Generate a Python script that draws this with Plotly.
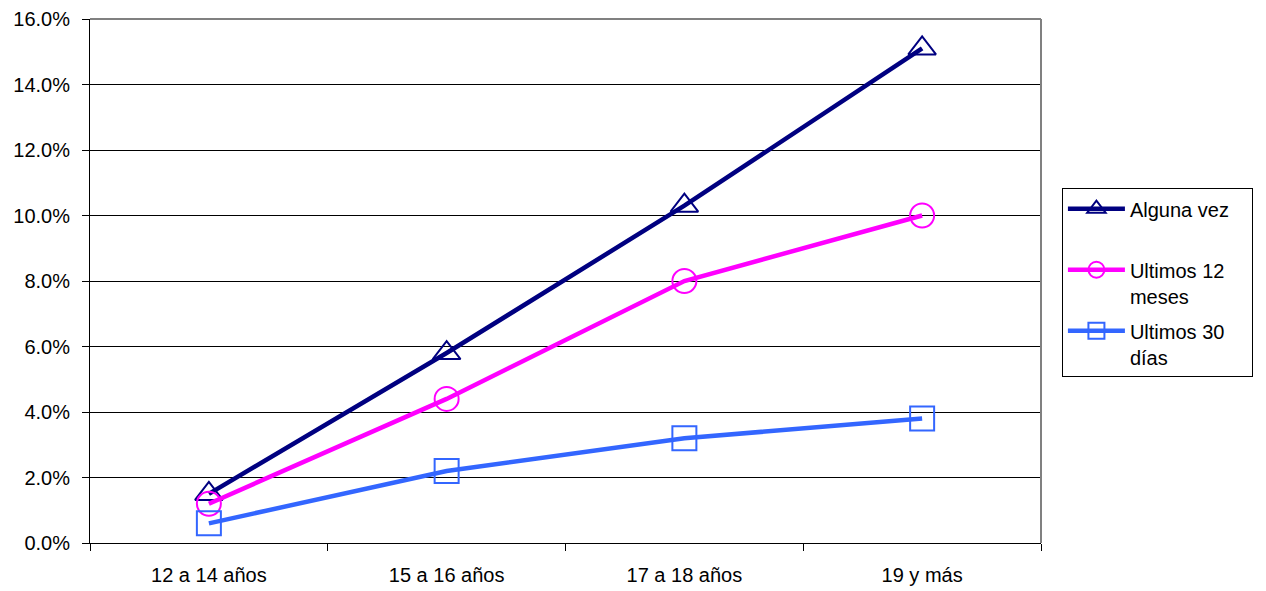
import plotly.graph_objects as go

categories = ["12 a 14 años", "15 a 16 años", "17 a 18 años", "19 y más"]
alguna_vez = [0.015, 0.058, 0.103, 0.151]
ultimos_12 = [0.012, 0.044, 0.080, 0.100]
ultimos_30 = [0.006, 0.022, 0.032, 0.038]
y_ticks = [0.0, 0.02, 0.04, 0.06, 0.08, 0.10, 0.12, 0.14, 0.16]

pad = "\u00a0" * 21
series = [
    ("Alguna vez<br>" + pad, alguna_vez, "#000080", "triangle-up-open", "g1"),
    ("Ultimos 12<br>meses", ultimos_12, "#FF00FF", "circle-open", "g2"),
    ("Ultimos 30<br>días", ultimos_30, "#3366FF", "square-open", "g3"),
]

fig = go.Figure()
for name, vals, color, sym, grp in series:
    fig.add_trace(go.Scatter(
        x=categories, y=vals, name=name, mode="lines+markers",
        legendgroup=grp,
        line=dict(color=color, width=4.5),
        marker=dict(symbol=sym, size=24, color=color, line=dict(color=color, width=2)),
    ))

fam = "Liberation Sans, Arial, sans-serif"
font = dict(family=fam, size=20, color="#000000")

fig.update_layout(
    width=1258, height=583,
    margin=dict(l=82, r=225, t=11, b=48, autoexpand=False),
    paper_bgcolor="white", plot_bgcolor="white",
    font=font,
    showlegend=True,
    legend=dict(
        x=1.022, y=0.677, xanchor="left", yanchor="top",
        bordercolor="#000000", borderwidth=1,
        font=dict(family=fam, size=20, color="#000000"),
        tracegroupgap=6, valign="top", itemwidth=57,
    ),
    xaxis=dict(
        type="category", range=[-0.5, 3.5], automargin=False,
        showline=True, linecolor="#000000", linewidth=1,
        ticks="outside", tickson="boundaries", ticklen=7, tickcolor="#000000",
        ticklabelstandoff=14,
        showgrid=False, tickfont=font, fixedrange=True,
    ),
    yaxis=dict(
        range=[0, 0.16], tickvals=y_ticks, tickformat=".1%", automargin=False,
        showline=True, linecolor="#000000", linewidth=1,
        ticks="outside", ticklen=7, tickcolor="#000000",
        ticklabelstandoff=8,
        showgrid=True, gridcolor="#000000", gridwidth=1,
        zeroline=False, tickfont=font, fixedrange=True,
    ),
    shapes=[
        dict(type="line", xref="x domain", yref="y domain", x0=0, x1=1, y0=1, y1=1,
             line=dict(color="#808080", width=2)),
        dict(type="line", xref="x domain", yref="y domain", x0=1, x1=1, y0=0, y1=1,
             line=dict(color="#808080", width=2)),
    ],
)

fig.write_html("out.html")
